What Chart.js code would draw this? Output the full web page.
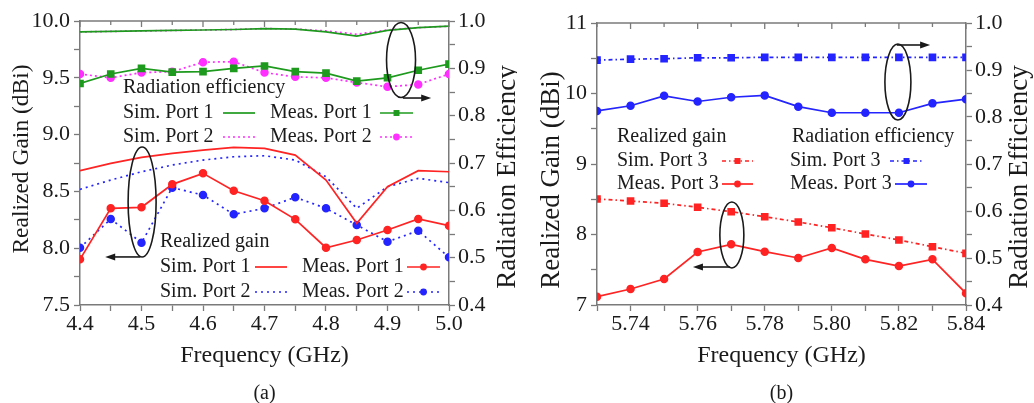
<!DOCTYPE html>
<html>
<head>
<meta charset="utf-8">
<script src="https://cdn.jsdelivr.net/npm/chart.js@4.4.1/dist/chart.umd.min.js"></script>
<style>
  html, body { margin: 0; padding: 0; background: #fff; }
  #wrap { position: relative; width: 1034px; height: 403px; }
  #wrap canvas { position: absolute; top: 0; }
</style>
</head>
<body>
<div id="wrap">
  <canvas id="chartA" width="517" height="403" style="left:0"></canvas>
  <canvas id="chartB" width="517" height="403" style="left:517px"></canvas>
</div>
<script>
// ---- data, panel (a) ----
const freqA = [4.4, 4.45, 4.5, 4.55, 4.6, 4.65, 4.7, 4.75, 4.8, 4.85, 4.9, 4.95, 5.0];
const simEffP1 = [0.977, 0.978, 0.979, 0.980, 0.981, 0.982, 0.984, 0.983, 0.977, 0.968, 0.980, 0.986, 0.989];
const simEffP2 = [0.977, 0.978, 0.979, 0.980, 0.981, 0.982, 0.984, 0.983, 0.979, 0.972, 0.981, 0.986, 0.989];
const measEffP1 = [0.868, 0.888, 0.900, 0.892, 0.893, 0.900, 0.905, 0.893, 0.890, 0.873, 0.880, 0.896, 0.909];
const measEffP2 = [0.888, 0.880, 0.891, 0.893, 0.913, 0.914, 0.891, 0.882, 0.880, 0.870, 0.861, 0.866, 0.888];
const simGainP1 = [8.682, 8.747, 8.800, 8.835, 8.864, 8.888, 8.879, 8.820, 8.600, 8.219, 8.541, 8.682, 8.673];
const simGainP2 = [8.518, 8.600, 8.673, 8.732, 8.776, 8.805, 8.814, 8.776, 8.629, 8.351, 8.541, 8.615, 8.577];
const measGainP1 = [7.902, 8.351, 8.360, 8.562, 8.659, 8.506, 8.418, 8.254, 8.004, 8.072, 8.160, 8.257, 8.198];
const measGainP2 = [8.004, 8.257, 8.048, 8.533, 8.468, 8.298, 8.351, 8.448, 8.351, 8.204, 8.057, 8.154, 7.920];

// ---- data, panel (b) ----
const freqB = [5.73, 5.74, 5.75, 5.76, 5.77, 5.78, 5.79, 5.80, 5.81, 5.82, 5.83, 5.84];
const simGainP3 = [8.504, 8.475, 8.443, 8.386, 8.323, 8.252, 8.177, 8.096, 8.007, 7.922, 7.827, 7.733];
const measGainP3 = [7.118, 7.227, 7.369, 7.752, 7.861, 7.756, 7.667, 7.809, 7.648, 7.553, 7.648, 7.166];
const simEffP3 = [0.921, 0.923, 0.924, 0.926, 0.926, 0.927, 0.927, 0.927, 0.927, 0.927, 0.927, 0.927];
const measEffP3 = [0.813, 0.824, 0.845, 0.833, 0.842, 0.846, 0.822, 0.809, 0.809, 0.809, 0.829, 0.838];

const FONT = "'Liberation Serif', 'Times New Roman', serif";
const AXIS = '#7a7a7a';
const TEXT = '#1a1a1a';
const GREEN = '#1e9a1e';
const MAGENTA = '#ff30ff';
const RED = '#ff2323';
const BLUE = '#2424ff';

// build one line dataset
function series(xs, ys, color, axis, dash, point) {
  return {
    data: xs.map((x, i) => ({ x: x, y: ys[i] })),
    borderColor: color,
    backgroundColor: color,
    borderWidth: 1.7,
    borderDash: dash || [],
    pointStyle: point || 'circle',
    pointRadius: point ? (point === 'rect' ? 4.2 : 3.4) : 0,
    pointHoverRadius: 0,
    yAxisID: axis,
    tension: 0
  };
}

function isMultiple(v, step) {
  const r = v / step;
  return Math.abs(r - Math.round(r)) < 1e-6;
}

function axisGrid() {
  return { display: true, drawOnChartArea: false, drawTicks: true, tickLength: 6, tickColor: AXIS, tickWidth: 1.3 };
}

function makeScales(xr, yl, yrr) {
  return {
    x: {
      type: 'linear', min: xr.min, max: xr.max,
      border: { color: AXIS, width: 1.5 },
      grid: axisGrid(),
      afterFit: s => { s.height = 98; },
      ticks: {
        stepSize: xr.step, autoSkip: false, maxRotation: 0, padding: 0,
        color: TEXT, font: { family: FONT, size: 22 },
        callback: v => isMultiple(v, xr.label) ? v.toFixed(xr.dec) : ''
      }
    },
    y: {
      type: 'linear', position: 'left', min: yl.min, max: yl.max,
      border: { color: AXIS, width: 1.5 },
      grid: axisGrid(),
      afterFit: s => { s.width = 80; },
      ticks: {
        stepSize: yl.step, autoSkip: false, padding: 4,
        color: TEXT, font: { family: FONT, size: 22 },
        callback: v => isMultiple(v, yl.label) ? v.toFixed(yl.dec) : ''
      }
    },
    y1: {
      type: 'linear', position: 'right', min: yrr.min, max: yrr.max,
      border: { color: AXIS, width: 1.5 },
      grid: axisGrid(),
      afterFit: s => { s.width = 68; },
      ticks: {
        stepSize: yrr.step, autoSkip: false, padding: 3,
        color: TEXT, font: { family: FONT, size: 22 },
        callback: v => isMultiple(v, yrr.label) ? v.toFixed(yrr.dec) : ''
      }
    }
  };
}

// frame, legend, ovals, arrows and titles
const decorPlugin = {
  id: 'decor',
  afterDraw(chart, args, o) {
    const { ctx, chartArea: ca, scales } = chart;
    const xs = scales.x, ys = scales.y;
    ctx.save();

    // top frame with inward ticks
    ctx.strokeStyle = AXIS;
    ctx.lineWidth = 1.5;
    ctx.beginPath();
    ctx.moveTo(ca.left, ca.top);
    ctx.lineTo(ca.right, ca.top);
    ctx.stroke();
    ctx.lineWidth = 1.3;
    xs.ticks.forEach(t => {
      const px = xs.getPixelForValue(t.value);
      const len = t.label ? 6 : 4;
      ctx.beginPath();
      ctx.moveTo(px, ca.top);
      ctx.lineTo(px, ca.top + len);
      ctx.stroke();
    });

    // legend
    ctx.fillStyle = TEXT;
    ctx.font = '20px ' + FONT;
    ctx.textBaseline = 'middle';
    ctx.textAlign = 'left';
    o.legend.forEach(it => {
      if (it.text) {
        ctx.fillText(it.text, it.x, it.y);
        return;
      }
      const ds = chart.data.datasets[it.ds];
      ctx.strokeStyle = ds.borderColor;
      ctx.lineWidth = ds.borderWidth;
      ctx.setLineDash(ds.borderDash);
      ctx.beginPath();
      ctx.moveTo(it.x1, it.y);
      ctx.lineTo(it.x2, it.y);
      ctx.stroke();
      ctx.setLineDash([]);
      if (ds.pointRadius > 0) {
        ctx.fillStyle = ds.backgroundColor;
        Chart.helpers.drawPoint(ctx, { pointStyle: ds.pointStyle, radius: ds.pointRadius, borderWidth: 0 }, (it.x1 + it.x2) / 2, it.y);
        ctx.fillStyle = TEXT;
      }
    });

    // ovals and arrows
    ctx.strokeStyle = '#1a1a1a';
    ctx.fillStyle = '#1a1a1a';
    ctx.lineWidth = 1.6;
    o.ovals.forEach(e => {
      ctx.beginPath();
      ctx.ellipse(xs.getPixelForValue(e.x), ys.getPixelForValue(e.y), e.rx, e.ry, 0, 0, Math.PI * 2);
      ctx.stroke();
    });
    o.arrows.forEach(a => {
      const x1 = xs.getPixelForValue(a.x1), x2 = xs.getPixelForValue(a.x2);
      const y = ys.getPixelForValue(a.y);
      const dir = Math.sign(x2 - x1);
      ctx.beginPath();
      ctx.moveTo(x1, y);
      ctx.lineTo(x2 - dir * 8, y);
      ctx.stroke();
      ctx.beginPath();
      ctx.moveTo(x2, y);
      ctx.lineTo(x2 - dir * 10, y - 3.5);
      ctx.lineTo(x2 - dir * 10, y + 3.5);
      ctx.closePath();
      ctx.fill();
    });

    // axis titles and caption
    ctx.fillStyle = TEXT;
    ctx.textAlign = 'center';
    ctx.textBaseline = 'middle';
    const midX = (ca.left + ca.right) / 2;
    ctx.font = '24px ' + FONT;
    ctx.fillText('Frequency (GHz)', midX, 356);
    ctx.font = '20px ' + FONT;
    ctx.fillText(o.caption, midX, 394);

    ctx.save();
    ctx.font = o.leftSize + 'px ' + FONT;
    ctx.translate(o.leftX, o.leftY);
    ctx.rotate(-Math.PI / 2);
    ctx.fillText('Realized Gain (dBi)', 0, 0);
    ctx.restore();

    ctx.save();
    ctx.font = '27px ' + FONT;
    ctx.translate(o.rightX, 177);
    ctx.rotate(-Math.PI / 2);
    ctx.fillText('Radiation Efficiency', 0, 0);
    ctx.restore();

    ctx.restore();
  }
};

function baseOptions(top, scales, decor) {
  return {
    responsive: false,
    animation: false,
    layout: { padding: { top: top, left: 0, right: 0, bottom: 0 } },
    scales: scales,
    plugins: { legend: { display: false }, tooltip: { enabled: false }, decor: decor }
  };
}

// panel (a)
new Chart(document.getElementById('chartA'), {
  type: 'line',
  data: {
    datasets: [
      series(freqA, simEffP1, GREEN, 'y1', [], null),          // 0
      series(freqA, measEffP1, GREEN, 'y1', [], 'rect'),       // 1
      series(freqA, simEffP2, MAGENTA, 'y1', [2, 3], null),    // 2
      series(freqA, measEffP2, MAGENTA, 'y1', [2, 3], 'circle'), // 3
      series(freqA, simGainP1, RED, 'y', [], null),            // 4
      series(freqA, measGainP1, RED, 'y', [], 'circle'),       // 5
      series(freqA, simGainP2, BLUE, 'y', [2, 4], null),       // 6
      series(freqA, measGainP2, BLUE, 'y', [2, 4], 'circle')   // 7
    ]
  },
  options: baseOptions(21,
    makeScales(
      { min: 4.4, max: 5.0, step: 0.05, label: 0.1, dec: 1 },
      { min: 7.5, max: 10.0, step: 0.25, label: 0.5, dec: 1 },
      { min: 0.4, max: 1.0, step: 0.05, label: 0.1, dec: 1 }
    ),
    {
      caption: '(a)', leftX: 22, leftY: 159, leftSize: 23.5, rightX: 508,
      legend: [
        { text: 'Radiation efficiency', x: 123, y: 88 },
        { text: 'Sim. Port 1', x: 123, y: 113 }, { ds: 0, x1: 223, x2: 255, y: 113 },
        { text: 'Meas. Port 1', x: 270, y: 113 }, { ds: 1, x1: 380, x2: 413, y: 113 },
        { text: 'Sim. Port 2', x: 123, y: 137 }, { ds: 2, x1: 223, x2: 255, y: 137 },
        { text: 'Meas. Port 2', x: 270, y: 137 }, { ds: 3, x1: 380, x2: 413, y: 137 },
        { text: 'Realized gain', x: 160, y: 242 },
        { text: 'Sim. Port 1', x: 160, y: 267 }, { ds: 4, x1: 255, x2: 287, y: 267 },
        { text: 'Meas. Port 1', x: 302, y: 267 }, { ds: 5, x1: 407, x2: 440, y: 267 },
        { text: 'Sim. Port 2', x: 160, y: 292 }, { ds: 6, x1: 255, x2: 287, y: 292 },
        { text: 'Meas. Port 2', x: 302, y: 292 }, { ds: 7, x1: 407, x2: 440, y: 292 }
      ],
      ovals: [
        { x: 4.922, y: 9.657, rx: 14.5, ry: 37.5 },
        { x: 4.501, y: 8.407, rx: 14, ry: 55 }
      ],
      arrows: [
        { x1: 4.925, x2: 4.971, y: 9.322 },
        { x1: 4.498, x2: 4.441, y: 7.923 }
      ]
    }),
  plugins: [decorPlugin]
});

// panel (b)
new Chart(document.getElementById('chartB'), {
  type: 'line',
  data: {
    datasets: [
      series(freqB, simGainP3, RED, 'y', [4, 3, 1.5, 3], 'rect'),   // 0
      series(freqB, measGainP3, RED, 'y', [], 'circle'),            // 1
      series(freqB, simEffP3, BLUE, 'y1', [4, 3, 1.5, 3], 'rect'),  // 2
      series(freqB, measEffP3, BLUE, 'y1', [], 'circle')            // 3
    ]
  },
  options: baseOptions(23,
    makeScales(
      { min: 5.73, max: 5.84, step: 0.01, label: 0.02, dec: 2 },
      { min: 7, max: 11, step: 0.5, label: 1, dec: 0 },
      { min: 0.4, max: 1.0, step: 0.05, label: 0.1, dec: 1 }
    ),
    {
      caption: '(b)', leftX: 35, leftY: 180, leftSize: 27, rightX: 503,
      legend: [
        { text: 'Realized gain', x: 100, y: 137 },
        { text: 'Sim. Port 3', x: 100, y: 161 }, { ds: 0, x1: 205, x2: 236, y: 161 },
        { text: 'Meas. Port 3', x: 100, y: 184 }, { ds: 1, x1: 205, x2: 236, y: 184 },
        { text: 'Radiation efficiency', x: 275, y: 137 },
        { text: 'Sim. Port 3', x: 273, y: 161 }, { ds: 2, x1: 373, x2: 406, y: 161 },
        { text: 'Meas. Port 3', x: 273, y: 184 }, { ds: 3, x1: 378, x2: 410, y: 184 }
      ],
      ovals: [
        { x: 5.8197, y: 10.163, rx: 13, ry: 38 },
        { x: 5.7702, y: 7.993, rx: 12, ry: 33 }
      ],
      arrows: [
        { x1: 5.8194, x2: 5.8293, y: 10.688 },
        { x1: 5.7696, x2: 5.7586, y: 7.539 }
      ]
    }),
  plugins: [decorPlugin]
});
</script>
</body>
</html>
